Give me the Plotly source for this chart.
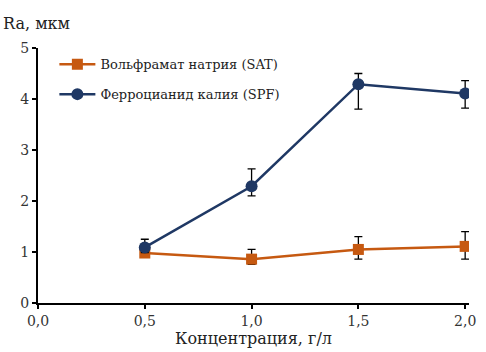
import plotly.graph_objects as go

# Concentration, g/L
conc = [0.5, 1.0, 1.5, 2.0]

# Sodium tungstate (SAT): mean Ra and error bounds
sat_ra = [0.98, 0.86, 1.05, 1.11]
sat_err_plus = [0.08, 0.19, 0.25, 0.29]
sat_err_minus = [0.08, 0.10, 0.19, 0.25]

# Potassium ferrocyanide (SPF): mean Ra and error bounds
spf_ra = [1.09, 2.29, 4.29, 4.11]
spf_err_plus = [0.16, 0.34, 0.21, 0.25]
spf_err_minus = [0.10, 0.19, 0.49, 0.29]

x_ticks = [0.0, 0.5, 1.0, 1.5, 2.0]
x_tick_text = ["0,0", "0,5", "1,0", "1,5", "2,0"]
y_ticks = [0, 1, 2, 3, 4, 5]

FONT = "DejaVu Serif"
ORANGE = "#C65911"
NAVY = "#1F3864"

fig = go.Figure()

fig.add_trace(go.Scatter(
    x=conc, y=sat_ra, mode="lines+markers",
    name="Вольфрамат натрия (SAT)", legendgroup="sat",
    line=dict(color=ORANGE, width=2.5),
    marker=dict(symbol="square", size=11, color=ORANGE),
    error_y=dict(type="data", symmetric=False, array=sat_err_plus,
                 arrayminus=sat_err_minus, color="#000000",
                 thickness=1.3, width=4),
))

fig.add_trace(go.Scatter(
    x=conc, y=spf_ra, mode="lines+markers",
    name="Ферроцианид калия (SPF)", legendgroup="spf",
    line=dict(color=NAVY, width=2.5),
    marker=dict(symbol="circle", size=12, color=NAVY),
    error_y=dict(type="data", symmetric=False, array=spf_err_plus,
                 arrayminus=spf_err_minus, color="#000000",
                 thickness=1.3, width=4),
))

fig.update_layout(
    width=486, height=352,
    margin=dict(l=38, r=10, t=48, b=46),
    paper_bgcolor="white", plot_bgcolor="white",
    font=dict(family=FONT, size=13, color="#222222"),
    showlegend=True,
    legend=dict(
        x=0.038, y=0.995, xanchor="left", yanchor="top",
        bgcolor="rgba(0,0,0,0)", font=dict(family=FONT, size=13, color="#222222"),
        tracegroupgap=10, itemwidth=36,
    ),
    xaxis=dict(
        range=[0, 2.018], tickvals=x_ticks, ticktext=x_tick_text,
        showgrid=False, zeroline=False, showline=True,
        linecolor="#000000", linewidth=2,
        ticks="outside", ticklen=4, tickwidth=1.5, tickcolor="#000000",
        tickfont=dict(family=FONT, size=14, color="#333333"),
        title=dict(text="Концентрация, г/л", standoff=2,
                   font=dict(family=FONT, size=16, color="#222222")),
    ),
    yaxis=dict(
        range=[0, 5], tickvals=y_ticks,
        showgrid=False, zeroline=False, showline=True,
        linecolor="#000000", linewidth=2,
        ticks="outside", ticklen=4, tickwidth=1.5, tickcolor="#000000",
        tickfont=dict(family=FONT, size=14, color="#333333"),
    ),
    annotations=[dict(
        text="Ra, мкм", xref="paper", yref="paper",
        x=-0.085, y=1.0, xanchor="left", yanchor="bottom", yshift=13,
        showarrow=False, font=dict(family=FONT, size=16, color="#222222"),
    )],
)

fig.write_html("out.html")
